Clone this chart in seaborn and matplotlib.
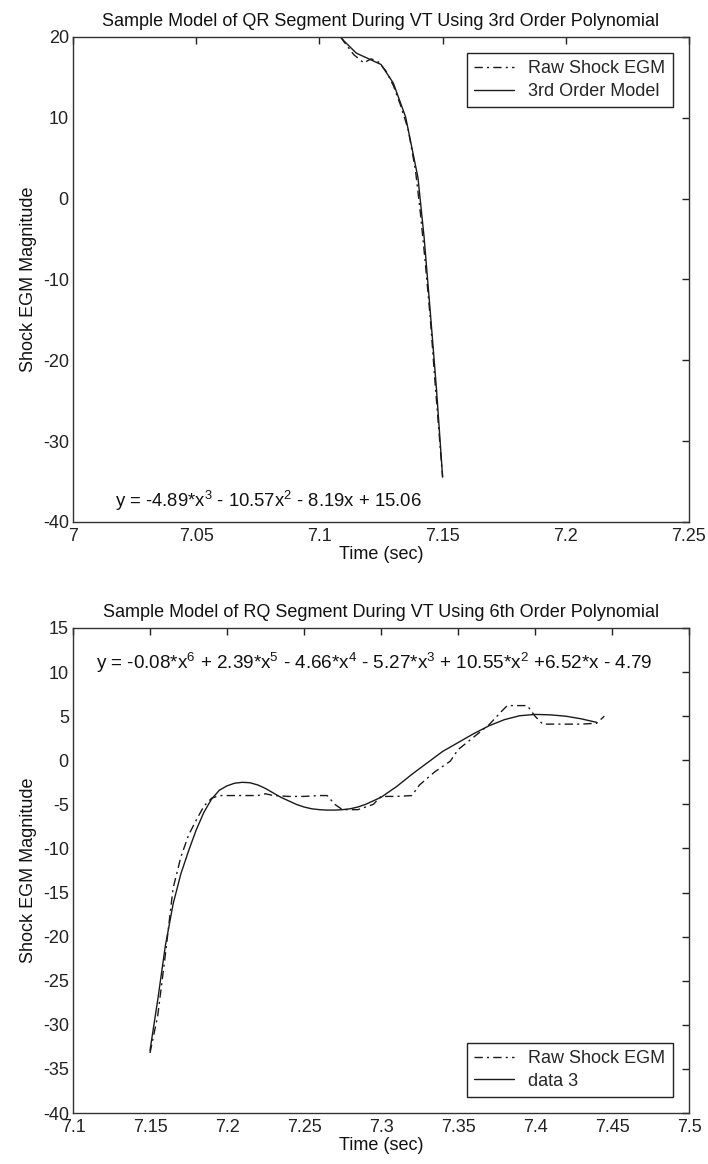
import numpy as np
import pandas as pd
import matplotlib
matplotlib.use("Agg")
import matplotlib.pyplot as plt
import seaborn as sns

# ---------------- data ----------------
top_t_raw = [7.100, 7.105, 7.110, 7.114, 7.118, 7.121, 7.124, 7.127, 7.130, 7.133,
             7.136, 7.139, 7.141, 7.143, 7.145, 7.147, 7.150]
top_raw = [23.8, 21.5, 19.4, 17.8, 16.8, 17.3, 16.9, 15.8, 14.0, 11.5,
           8.6, 3.5, -1.8, -8.0, -14.8, -23.0, -34.5]
top_t_model = [7.100, 7.105, 7.110, 7.115, 7.120, 7.125, 7.130, 7.135, 7.140,
               7.1425, 7.145, 7.1475, 7.150]
top_model = [23.5, 21.3, 19.5, 18.0, 17.3, 16.6, 14.3, 10.1, 2.6,
             -4.8, -14.0, -23.5, -34.4]

bot_t_raw = [7.150, 7.155, 7.160, 7.165, 7.170, 7.175, 7.180, 7.185, 7.190, 7.195,
             7.200, 7.210, 7.220, 7.225, 7.230, 7.240, 7.250, 7.260, 7.265, 7.270,
             7.275, 7.285, 7.295, 7.300, 7.310, 7.320, 7.325, 7.335, 7.345, 7.350,
             7.360, 7.370, 7.378, 7.382, 7.395, 7.400, 7.405, 7.415, 7.430, 7.440, 7.445]
bot_raw = [-33.2, -29.0, -22.0, -14.5, -11.0, -8.5, -6.8, -5.2, -4.3, -4.0,
           -4.0, -4.0, -4.0, -3.8, -4.0, -4.1, -4.1, -4.0, -4.0, -5.0,
           -5.6, -5.6, -5.0, -4.1, -4.1, -4.0, -2.8, -1.3, -0.1, 1.2,
           2.6, 4.0, 5.5, 6.2, 6.2, 5.0, 4.1, 4.1, 4.1, 4.2, 5.0]
bot_t_model = [7.150, 7.155, 7.160, 7.165, 7.170, 7.175, 7.180, 7.185, 7.190, 7.195,
               7.200, 7.205, 7.210, 7.215, 7.220, 7.225, 7.230, 7.235, 7.240, 7.245,
               7.250, 7.255, 7.260, 7.265, 7.270, 7.275, 7.280, 7.285, 7.290, 7.295,
               7.300, 7.310, 7.320, 7.330, 7.340, 7.350, 7.360, 7.370, 7.380, 7.390,
               7.400, 7.410, 7.420, 7.430, 7.440]
bot_model = [-32.9, -27.2, -21.0, -16.3, -12.9, -10.3, -7.9, -5.9, -4.4, -3.4,
             -2.9, -2.6, -2.5, -2.55, -2.8, -3.2, -3.7, -4.2, -4.6, -5.0,
             -5.3, -5.5, -5.6, -5.65, -5.65, -5.6, -5.5, -5.3, -5.0, -4.6,
             -4.2, -3.0, -1.6, -0.3, 1.0, 2.0, 3.0, 3.9, 4.6, 5.05,
             5.2, 5.15, 5.0, 4.7, 4.3]

top_labels = ["Raw Shock EGM", "3rd Order Model"]
bot_labels = ["Raw Shock EGM", "data 3"]
top_title = "Sample Model of QR Segment During VT Using 3rd Order Polynomial"
bot_title = "Sample Model of RQ Segment During VT Using 6th Order Polynomial"
top_eq = r"y = -4.89*x$^3$ - 10.57x$^2$ - 8.19x + 15.06"
bot_eq = r"y = -0.08*x$^6$ + 2.39*x$^5$ - 4.66*x$^4$ - 5.27*x$^3$ + 10.55*x$^2$ +6.52*x - 4.79"
top_xticks = [7, 7.05, 7.1, 7.15, 7.2, 7.25]
top_xticklabels = ["7", "7.05", "7.1", "7.15", "7.2", "7.25"]
top_yticks = [-40, -30, -20, -10, 0, 10, 20]
bot_xticks = [7.1, 7.15, 7.2, 7.25, 7.3, 7.35, 7.4, 7.45, 7.5]
bot_xticklabels = ["7.1", "7.15", "7.2", "7.25", "7.3", "7.35", "7.4", "7.45", "7.5"]
bot_yticks = [-40, -35, -30, -25, -20, -15, -10, -5, 0, 5, 10, 15]

# ---------------- style ----------------
sns.set_theme(style="white")
plt.rcParams["font.family"] = ["Liberation Sans", "DejaVu Sans"]
plt.rcParams["axes.unicode_minus"] = False
plt.rcParams["mathtext.default"] = "regular"
plt.rcParams["mathtext.fontset"] = "custom"
plt.rcParams["mathtext.rm"] = "Liberation Sans"

FS = 13
LINE = "#1a1a1a"
DASHDOT = (6, 3, 1.5, 3)

fig = plt.figure(figsize=(7.08, 11.64), dpi=100)
ax1 = fig.add_axes([73 / 708, 1 - 522 / 1164, 616 / 708, 485 / 1164])
ax2 = fig.add_axes([73 / 708, 1 - 1113 / 1164, 616 / 708, 485 / 1164])


def make_df(t_raw, raw, t_mod, mod, labels):
    d1 = pd.DataFrame({"t": t_raw, "v": raw, "series": labels[0]})
    d2 = pd.DataFrame({"t": t_mod, "v": mod, "series": labels[1]})
    return pd.concat([d1, d2], ignore_index=True)


def draw(ax, df, labels, xlim, ylim, xticks, xticklabels, yticks, title, eq, eqpos,
         eqfs, legloc):
    sns.lineplot(data=df, x="t", y="v", style="series", style_order=labels,
                 dashes={labels[0]: DASHDOT, labels[1]: ""}, color=LINE,
                 linewidth=1.0, estimator=None, sort=False, ax=ax)
    ax.set_xlim(*xlim)
    ax.set_ylim(*ylim)
    ax.set_xticks(xticks)
    ax.set_xticklabels(xticklabels)
    ax.set_yticks(yticks)
    ax.tick_params(direction="in", length=5, width=1, top=True, right=True,
                   labelsize=FS, colors="#222222")
    ax.tick_params(axis="x", pad=4)
    ax.tick_params(axis="y", pad=3)
    for s in ax.spines.values():
        s.set_color("#333333")
        s.set_linewidth(1.0)
        s.set_visible(True)
    ax.set_xlabel("Time (sec)", fontsize=FS, color="#111111", labelpad=1)
    ax.set_ylabel("Shock EGM Magnitude", fontsize=FS, color="#111111", labelpad=4)
    ax.set_title(title, fontsize=FS, color="#111111", pad=8)
    ax.text(eqpos[0], eqpos[1], eq, transform=ax.transAxes, fontsize=eqfs,
            color="#111111", ha="left", va="baseline")
    leg = ax.legend(loc=legloc, fontsize=FS, frameon=True, fancybox=False,
                    edgecolor="#222222", framealpha=1, borderaxespad=0.9,
                    handlelength=2.2, borderpad=0.4, labelspacing=0.3)
    leg.get_frame().set_linewidth(1.0)
    leg.set_title(None)


draw(ax1, make_df(top_t_raw, top_raw, top_t_model, top_model, top_labels), top_labels,
     (7, 7.25), (-40, 20), top_xticks, top_xticklabels, top_yticks,
     top_title, top_eq, (0.068, 0.03), 13.3, "upper right")
draw(ax2, make_df(bot_t_raw, bot_raw, bot_t_model, bot_model, bot_labels), bot_labels,
     (7.1, 7.5), (-40, 15), bot_xticks, bot_xticklabels, bot_yticks,
     bot_title, bot_eq, (0.038, 0.915), 13.6, "lower right")

fig.savefig("out.png", dpi=100)
